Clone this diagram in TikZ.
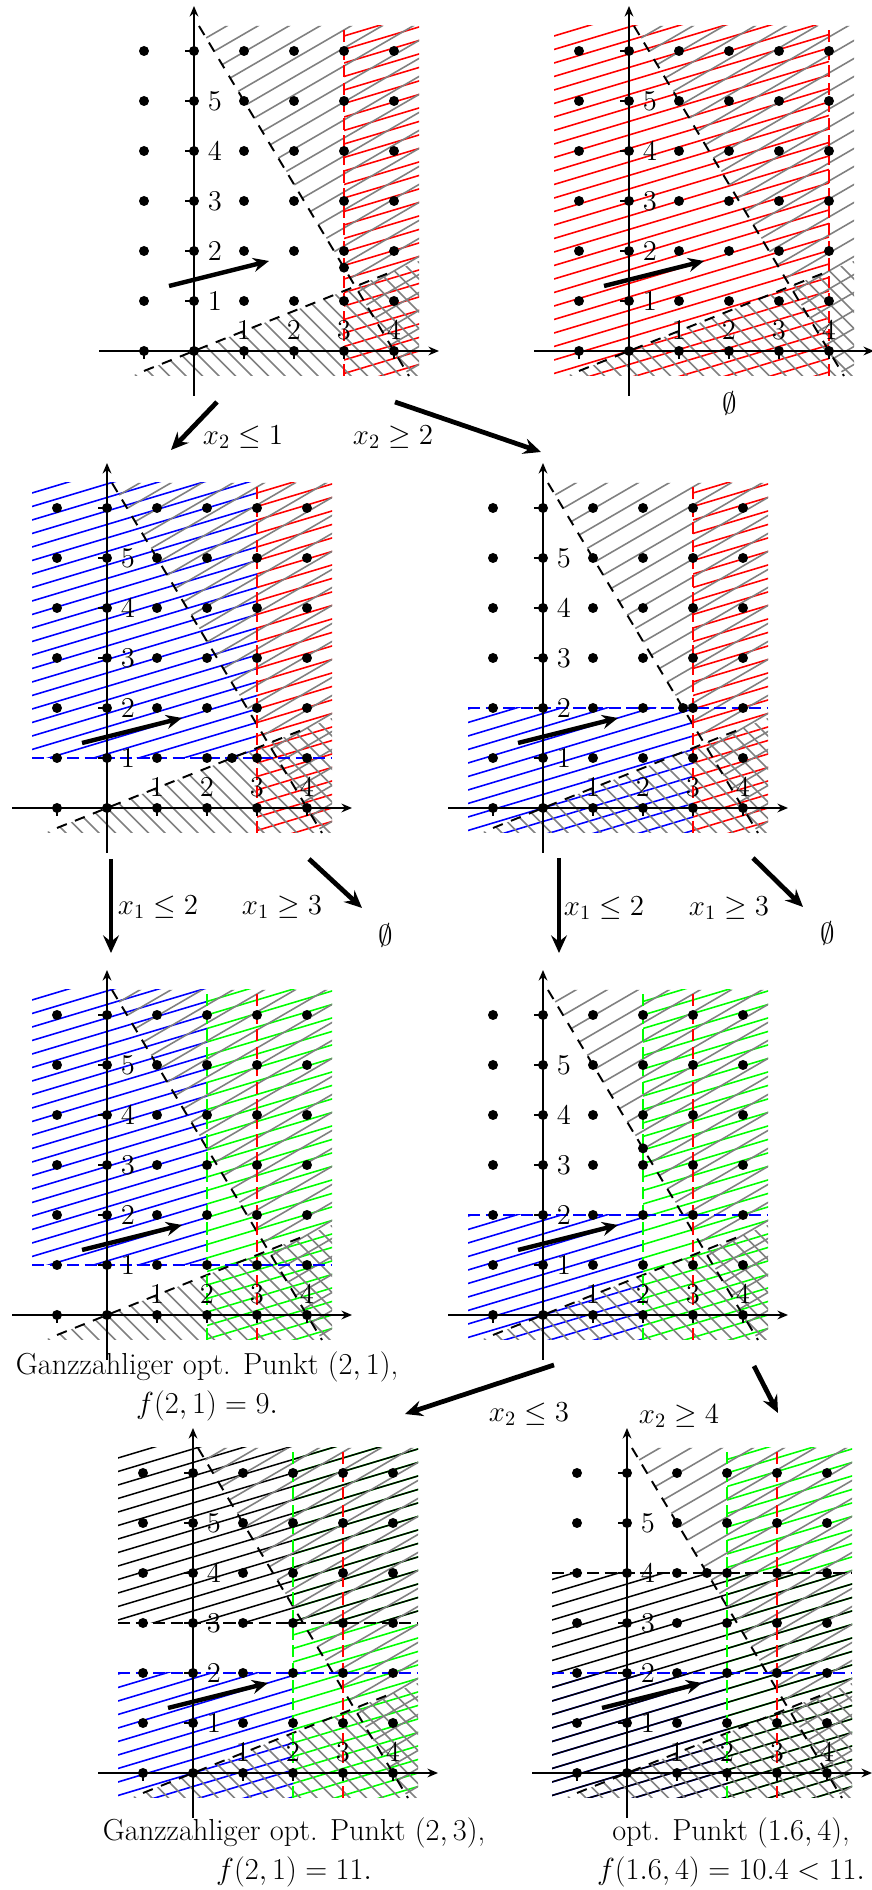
\RequirePackage{fix-cm}
\documentclass[tikz,border=0pt]{standalone}
\usetikzlibrary{arrows.meta}

% hatch lines y = slope*x + k*gap, clipped to a region
\newcommand{\hatchbox}[4]{%
  \begin{scope}
    \clip #4;
    \foreach \k in {-30,...,30}
      \draw[hatchline,#1] (-2,{-2*(#2)+\k*(#3)}) -- (5,{5*(#2)+\k*(#3)});
  \end{scope}}

% the two constraints of the LP, hatched on the infeasible side
\newcommand{\lpgray}{%
  \hatchbox{gray}{0.58}{0.36}{(0.1,6.5) -- (4.5,6.5) -- (4.5,-0.5) -- (4.3,-0.5) -- cycle}
  \hatchbox{gray}{-1}{0.33}{(-1.25,-0.5) -- (4.5,1.8) -- (4.5,-0.5) -- cycle}
  \draw[lpline] (0.1,6.5) -- (4.3,-0.5);
  \draw[lpline] (-1,-0.4) -- (4,1.6);}

% axes, ticks, integer points, objective direction
\newcommand{\lattice}{%
  \draw[axis] (-1.9,0) -- (4.9,0);
  \draw[axis] (0,-0.9) -- (0,6.9);
  \foreach \i in {-1,...,4} \draw[tick] (\i,0) -- (\i,-0.17);
  \foreach \j in {1,...,6} \draw[tick] (0,\j) -- (-0.18,\j);
  \foreach \i in {1,...,4} \node[ticklbl] (xl\i) at (\i,0.42) {$\i$};
  \foreach \j in {1,...,5} \node[ticklbl] (yl\j) at (0.42,\j) {$\j$};
  \foreach \i in {-1,...,4} \foreach \j in {0,...,6} \fill (\i,\j) circle (0.1);
  \draw[obj] (-0.5,1.3) -- (1.5,1.8);}

\begin{document}
\begin{tikzpicture}[
  axis/.style={line width=1.4pt,-{Stealth[length=6pt,width=5pt,inset=2pt]}},
  tick/.style={line width=0.6pt},
  hatchline/.style={line width=0.9pt},
  lpline/.style={line width=1.1pt,dash pattern=on 6pt off 5pt},
  bnd/.style={line width=1.1pt,dash pattern=on 7pt off 3pt},
  obj/.style={line width=2.5pt,-{Stealth[length=9pt,width=8pt,inset=3pt]}},
  branch/.style={line width=2.7pt,-{Stealth[length=10pt,width=9pt,inset=3.5pt]}},
  ticklbl/.style={font=\fontsize{16.3}{19}\selectfont,inner sep=0pt},
  lbl/.style={font=\fontsize{16.5}{20}\selectfont,inner sep=0pt},
  capt/.style={font=\fontsize{17.3}{22.2}\selectfont,align=center,inner sep=0pt,anchor=north}
]
\useasboundingbox (0,0) rectangle (17.44,37.8);

%% ================= root =================
\begin{scope}[shift={(3.88,30.78)}]
  \hatchbox{red}{0.3}{0.27}{(3,-0.5) rectangle (4.5,6.5)}
  \lpgray
  \draw[bnd,red] (3,-0.5) -- (3,6.5);
  \lattice
  \fill (3,5/3) circle (0.1);
\end{scope}

%% ================= x1 >= 4 =================
\begin{scope}[shift={(12.58,30.78)}]
  \hatchbox{red}{0.3}{0.27}{(-1.5,-0.5) rectangle (4,6.5)}
  \lpgray
  \draw[bnd,red] (4,-0.5) -- (4,6.5);
  \lattice
\end{scope}
\node[lbl] (emptyA) at (14.6,29.74) {$\emptyset$};

\coordinate (a1) at (4.34,29.76);
\coordinate (b1) at (3.42,28.8);
\draw[branch] (a1) -- (b1);
\node[lbl] (c1) at (4.86,29.06) {$x_2\le 1$};
\coordinate (a2) at (7.9,29.76);
\coordinate (b2) at (10.82,28.76);
\draw[branch] (a2) -- (b2);
\node[lbl] (c2) at (7.86,29.06) {$x_2\ge 2$};

%% ================= x2 <= 1 =================
\begin{scope}[shift={(2.14,21.64)}]
  \hatchbox{red}{0.3}{0.27}{(3,-0.5) rectangle (4.5,6.5)}
  \hatchbox{blue}{0.3}{0.27}{(-1.5,1) rectangle (3,6.5)}
  \lpgray
  \draw[bnd,red] (3,-0.5) -- (3,6.5);
  \draw[bnd,blue] (-1.5,1) -- (4.5,1);
  \lattice
  \fill (2.5,1) circle (0.1);
\end{scope}

%% ================= x2 >= 2 =================
\begin{scope}[shift={(10.86,21.64)}]
  \hatchbox{red}{0.3}{0.27}{(3,-0.5) rectangle (4.5,6.5)}
  \hatchbox{blue}{0.3}{0.27}{(-1.5,-0.5) rectangle (3,2)}
  \lpgray
  \draw[bnd,red] (3,-0.5) -- (3,6.5);
  \draw[bnd,blue] (-1.5,2) -- (4.5,2);
  \lattice
  \fill (2.8,2) circle (0.1);
\end{scope}

\coordinate (a3) at (2.22,20.62);
\coordinate (b3) at (2.22,18.74);
\draw[branch] (a3) -- (b3);
\node[lbl] (c3) at (3.16,19.66) {$x_1\le 2$};
\node[lbl] (c4) at (5.64,19.66) {$x_1\ge 3$};
\coordinate (a4) at (6.18,20.62);
\coordinate (b4) at (7.24,19.64);
\draw[branch] (a4) -- (b4);
\node[lbl] (emptyB) at (7.72,19.1) {$\emptyset$};

\coordinate (a5) at (11.18,20.64);
\coordinate (b5) at (11.18,18.74);
\draw[branch] (a5) -- (b5);
\node[lbl] (c5) at (12.08,19.64) {$x_1\le 2$};
\node[lbl] (c6) at (14.58,19.64) {$x_1\ge 3$};
\coordinate (a6) at (15.06,20.64);
\coordinate (b6) at (16.06,19.66);
\draw[branch] (a6) -- (b6);
\node[lbl] (emptyC) at (16.56,19.14) {$\emptyset$};

%% ================= x2 <= 1, x1 <= 2 =================
\begin{scope}[shift={(2.14,11.5)}]
  \hatchbox{green}{0.3}{0.27}{(2,-0.5) rectangle (4.5,6.5)}
  \hatchbox{blue}{0.3}{0.27}{(-1.5,1) rectangle (2,6.5)}
  \lpgray
  \draw[bnd,red] (3,-0.5) -- (3,6.5);
  \draw[bnd,green] (2,-0.5) -- (2,6.5);
  \draw[bnd,blue] (-1.5,1) -- (4.5,1);
  \lattice
\end{scope}
\node[capt] (optA) at (4.14,10.78) {Ganzzahliger opt. Punkt $(2,1)$,\\ $f(2,1) = 9.$};

%% ================= x2 >= 2, x1 <= 2 =================
\begin{scope}[shift={(10.86,11.5)}]
  \hatchbox{green}{0.3}{0.27}{(2,-0.5) rectangle (4.5,6.5)}
  \hatchbox{blue}{0.3}{0.27}{(-1.5,-0.5) rectangle (2,2)}
  \lpgray
  \draw[bnd,red] (3,-0.5) -- (3,6.5);
  \draw[bnd,green] (2,-0.5) -- (2,6.5);
  \draw[bnd,blue] (-1.5,2) -- (4.5,2);
  \lattice
  \fill (2,10/3) circle (0.1);
\end{scope}

\coordinate (a7) at (11.08,10.5);
\coordinate (b7) at (8.1,9.52);
\draw[branch] (a7) -- (b7);
\node[lbl] (c7) at (10.58,9.52) {$x_2\le 3$};
\coordinate (a8) at (15.08,10.48);
\coordinate (b8) at (15.56,9.54);
\draw[branch] (a8) -- (b8);
\node[lbl] (c8) at (13.58,9.48) {$x_2\ge 4$};

%% ================= x2 <= 3 =================
\begin{scope}[shift={(3.86,2.34)}]
  \hatchbox{green}{0.3}{0.27}{(2,-0.5) rectangle (4.5,6.5)}
  \hatchbox{blue}{0.3}{0.27}{(-1.5,-0.5) rectangle (2,2)}
  \hatchbox{black,line width=0.85pt}{0.3}{0.27}{(-1.5,3) rectangle (4.5,6.5)}
  \lpgray
  \draw[bnd,red] (3,-0.5) -- (3,6.5);
  \draw[bnd,green] (2,-0.5) -- (2,6.5);
  \draw[bnd,blue] (-1.5,2) -- (4.5,2);
  \draw[bnd,black] (-1.5,3) -- (4.5,3);
  \lattice
\end{scope}
\node[capt] (optB) at (5.88,1.46) {Ganzzahliger opt. Punkt $(2,3)$,\\ $f(2,1) = 11.$};

%% ================= x2 >= 4 =================
\begin{scope}[shift={(12.54,2.34)}]
  \hatchbox{green}{0.3}{0.27}{(2,-0.5) rectangle (4.5,6.5)}
  \hatchbox{blue}{0.3}{0.27}{(-1.5,-0.5) rectangle (2,2)}
  \hatchbox{black,line width=0.85pt}{0.3}{0.27}{(-1.5,-0.5) rectangle (4.5,4)}
  \lpgray
  \draw[bnd,red] (3,-0.5) -- (3,6.5);
  \draw[bnd,green] (2,-0.5) -- (2,6.5);
  \draw[bnd,blue] (-1.5,2) -- (4.5,2);
  \draw[bnd,black] (-1.5,4) -- (4.5,4);
  \lattice
  \fill (1.6,4) circle (0.1);
\end{scope}
\node[capt] (optC) at (14.62,1.46) {opt. Punkt $(1.6,4)$,\\ $f(1.6,4) = 10.4 < 11.$};

\end{tikzpicture}
\end{document}
